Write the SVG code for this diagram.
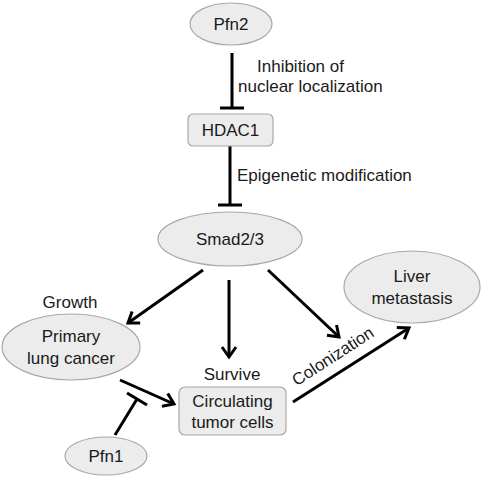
<svg xmlns="http://www.w3.org/2000/svg" width="483" height="479" viewBox="0 0 483 479">
<defs>
<style>
.n{fill:#ececec;stroke:#a8a8a8;stroke-width:1.2}
.t{font-family:"Liberation Sans",Arial,sans-serif;font-size:17px;fill:#1a1a1a;text-anchor:middle}
.l{font-family:"Liberation Sans",Arial,sans-serif;font-size:17px;fill:#1a1a1a}
.c{stroke:#000;stroke-width:3;fill:none}
</style>
<marker id="ar" markerWidth="10" markerHeight="10" refX="7" refY="5" orient="auto" markerUnits="userSpaceOnUse" viewBox="0 0 10 10" overflow="visible">
<path d="M-3,-2 L7,5 L-3,12" fill="none" stroke="#000" stroke-width="3"/>
</marker>
</defs>
<rect width="483" height="479" fill="#fff"/>
<g id="connectors">
<line class="c" x1="232" y1="53" x2="232" y2="108"/>
<line class="c" x1="220" y1="108" x2="244" y2="108"/>
<line class="c" x1="230" y1="146" x2="230" y2="205"/>
<line class="c" x1="218" y1="205" x2="242" y2="205"/>
<line class="c" x1="203" y1="270" x2="128" y2="323" marker-end="url(#ar)"/>
<line class="c" x1="229" y1="280" x2="229" y2="357" marker-end="url(#ar)"/>
<line class="c" x1="268" y1="270" x2="339" y2="337" marker-end="url(#ar)"/>
<line class="c" x1="293" y1="402" x2="409" y2="328" marker-end="url(#ar)"/>
<line class="c" x1="120" y1="380" x2="174" y2="404" marker-end="url(#ar)"/>
<line class="c" x1="115" y1="435" x2="137" y2="399"/>
<line class="c" x1="127" y1="393" x2="147" y2="405"/>
</g>
<g id="pfn2"><ellipse class="n" cx="231" cy="24" rx="41" ry="21"/><text class="t" x="231" y="30">Pfn2</text></g>
<g id="hdac1"><rect class="n" x="188" y="114" width="85" height="32" rx="5"/><text class="t" x="230.5" y="136">HDAC1</text></g>
<g id="smad"><ellipse class="n" cx="230" cy="239" rx="72" ry="27"/><text class="t" x="230" y="245">Smad2/3</text></g>
<g id="liver"><ellipse class="n" cx="412" cy="287" rx="68" ry="36"/><text class="t" x="412" y="282">Liver</text><text class="t" x="412" y="304">metastasis</text></g>
<g id="primary"><ellipse class="n" cx="71" cy="347" rx="69" ry="33"/><text class="t" x="71" y="342">Primary</text><text class="t" x="71" y="364">lung cancer</text></g>
<g id="ctc"><rect class="n" x="179" y="387" width="107" height="48" rx="6"/><text class="t" x="232.5" y="407">Circulating</text><text class="t" x="232.5" y="428">tumor cells</text></g>
<g id="pfn1"><ellipse class="n" cx="106" cy="456" rx="41" ry="19"/><text class="t" x="106" y="462">Pfn1</text></g>
<g id="labels">
<text class="l" x="257" y="72">Inhibition of</text>
<text class="l" x="238" y="92">nuclear localization</text>
<text class="l" x="237" y="181">Epigenetic modification</text>
<text class="t" x="70" y="308">Growth</text>
<text class="t" x="232" y="380">Survive</text>
<text class="t" transform="translate(336,361) rotate(-33)">Colonization</text>
</g>
</svg>
